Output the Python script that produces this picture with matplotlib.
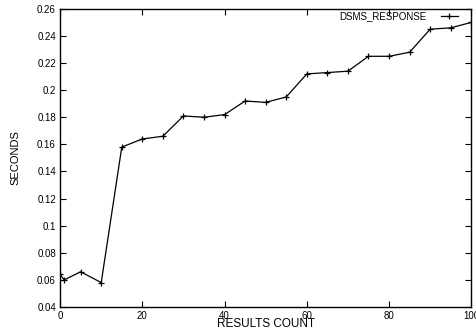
import matplotlib.pyplot as plt

results_count = [0, 1, 5, 10, 15, 20, 25, 30, 35, 40, 45, 50, 55, 60, 65, 70, 75, 80, 85, 90, 95, 100]
seconds = [0.064, 0.060, 0.066, 0.058, 0.158, 0.164, 0.166, 0.181, 0.180, 0.182, 0.192,
           0.191, 0.195, 0.212, 0.213, 0.214, 0.225, 0.225, 0.228, 0.245, 0.246, 0.250]

plt.rcParams["font.family"] = ["Liberation Sans", "DejaVu Sans"]

fig = plt.figure(figsize=(4.77, 3.32), dpi=100)
ax = fig.add_axes([0.126, 0.0753, 0.862, 0.898])

ax.plot(results_count, seconds, color="black", linewidth=0.9, marker="+",
        markersize=5, markeredgewidth=0.9, label="DSMS_RESPONSE")

ax.set_xlim(0, 100)
ax.set_ylim(0.04, 0.26)
ax.set_xticks(range(0, 101, 20))
ax.set_yticks([0.04 + 0.02 * i for i in range(12)])
ax.set_yticklabels(["0.04", "0.06", "0.08", "0.1", "0.12", "0.14", "0.16", "0.18",
                    "0.2", "0.22", "0.24", "0.26"])
ax.tick_params(direction="in", top=True, right=True, labelsize=7, length=4, width=0.8, pad=3)
for s in ax.spines.values():
    s.set_linewidth(1.0)

ax.set_xlabel("RESULTS COUNT", fontsize=8.5, labelpad=-2)
ax.set_ylabel("SECONDS", fontsize=8, labelpad=12)

ax.legend(loc="upper right", bbox_to_anchor=(0.973, 1.0), frameon=False, fontsize=7,
          handlelength=1.75, handletextpad=1.5, markerfirst=False,
          borderaxespad=0, borderpad=0.25)

fig.savefig("out.png", dpi=100)
